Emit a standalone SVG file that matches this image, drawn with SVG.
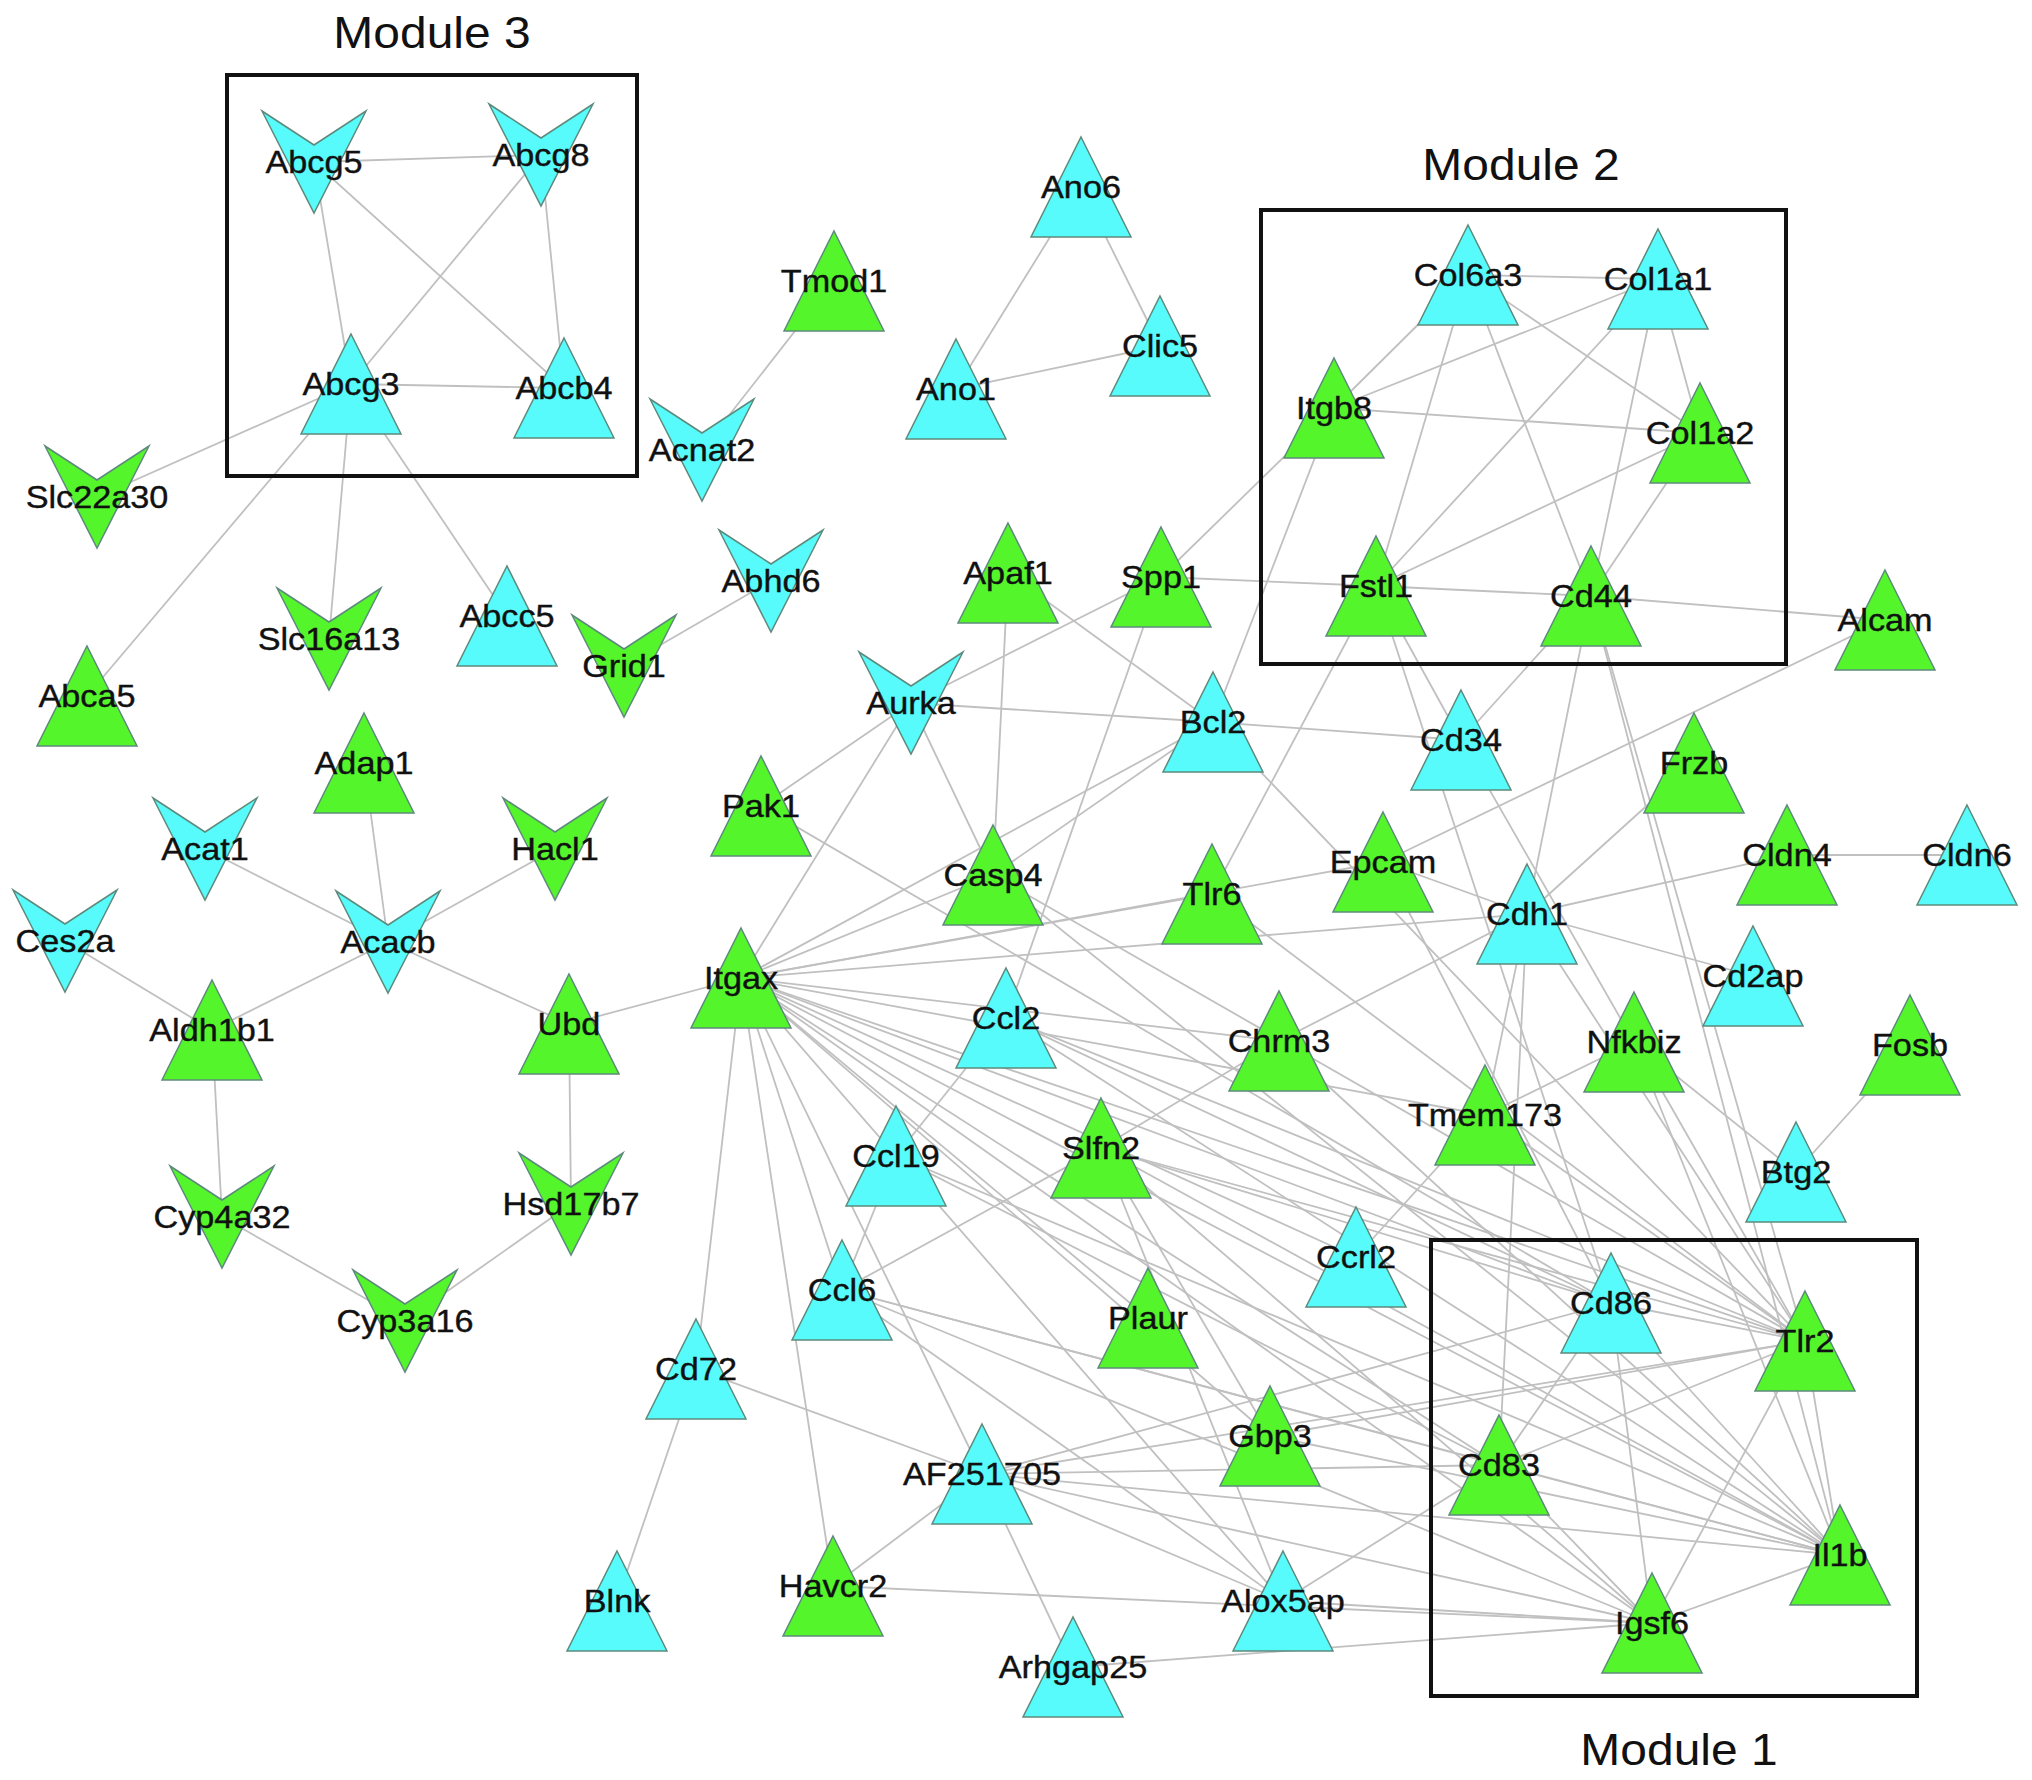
<svg xmlns="http://www.w3.org/2000/svg" xmlns:xlink="http://www.w3.org/1999/xlink" width="2032" height="1780" viewBox="0 0 2032 1780">
<style>
.e line{stroke:#c0c0c0;stroke-width:1.8}
.c{fill:#57fbfb}
.g{fill:#55f52c}
use{stroke:#5d8a7c;stroke-width:1.5}
.lb{font-family:"Liberation Sans",Arial,sans-serif;font-size:32px;fill:#111;stroke:#111;stroke-width:0.4;text-anchor:middle}
.box{fill:none;stroke:#111;stroke-width:4}
.mt{font-family:"Liberation Sans",Arial,sans-serif;font-size:44px;fill:#111;text-anchor:middle}
</style>
<defs>
<polygon id="tri" points="0,-50 50,50 -50,50"/>
<polygon id="vee" points="-52,-51 0,-17 52,-51 0,51"/>
</defs>
<rect width="2032" height="1780" fill="#fff"/>
<g id="connectors" class="e">
<line x1="314" y1="162" x2="541" y2="155"/>
<line x1="314" y1="162" x2="351" y2="384"/>
<line x1="314" y1="162" x2="564" y2="388"/>
<line x1="541" y1="155" x2="351" y2="384"/>
<line x1="541" y1="155" x2="564" y2="388"/>
<line x1="351" y1="384" x2="564" y2="388"/>
<line x1="351" y1="384" x2="97" y2="497"/>
<line x1="351" y1="384" x2="87" y2="696"/>
<line x1="351" y1="384" x2="329" y2="639"/>
<line x1="351" y1="384" x2="507" y2="616"/>
<line x1="834" y1="281" x2="702" y2="450"/>
<line x1="1081" y1="187" x2="956" y2="389"/>
<line x1="1081" y1="187" x2="1160" y2="346"/>
<line x1="956" y1="389" x2="1160" y2="346"/>
<line x1="771" y1="581" x2="624" y2="666"/>
<line x1="364" y1="763" x2="388" y2="942"/>
<line x1="205" y1="849" x2="388" y2="942"/>
<line x1="555" y1="849" x2="388" y2="942"/>
<line x1="388" y1="942" x2="212" y2="1030"/>
<line x1="388" y1="942" x2="569" y2="1024"/>
<line x1="65" y1="941" x2="212" y2="1030"/>
<line x1="212" y1="1030" x2="222" y2="1217"/>
<line x1="222" y1="1217" x2="405" y2="1321"/>
<line x1="405" y1="1321" x2="571" y2="1204"/>
<line x1="569" y1="1024" x2="571" y2="1204"/>
<line x1="569" y1="1024" x2="741" y2="978"/>
<line x1="1787" y1="855" x2="1967" y2="855"/>
<line x1="1910" y1="1045" x2="1796" y2="1172"/>
<line x1="696" y1="1369" x2="617" y2="1601"/>
<line x1="1468" y1="275" x2="1658" y2="279"/>
<line x1="1468" y1="275" x2="1334" y2="408"/>
<line x1="1468" y1="275" x2="1376" y2="586"/>
<line x1="1468" y1="275" x2="1591" y2="596"/>
<line x1="1468" y1="275" x2="1700" y2="433"/>
<line x1="1658" y1="279" x2="1334" y2="408"/>
<line x1="1658" y1="279" x2="1376" y2="586"/>
<line x1="1658" y1="279" x2="1591" y2="596"/>
<line x1="1658" y1="279" x2="1700" y2="433"/>
<line x1="1334" y1="408" x2="1700" y2="433"/>
<line x1="1700" y1="433" x2="1376" y2="586"/>
<line x1="1700" y1="433" x2="1591" y2="596"/>
<line x1="1376" y1="586" x2="1591" y2="596"/>
<line x1="1334" y1="408" x2="1161" y2="577"/>
<line x1="1334" y1="408" x2="1213" y2="722"/>
<line x1="1161" y1="577" x2="1376" y2="586"/>
<line x1="1591" y1="596" x2="1885" y2="620"/>
<line x1="1376" y1="586" x2="1212" y2="894"/>
<line x1="1376" y1="586" x2="1461" y2="740"/>
<line x1="1376" y1="586" x2="1611" y2="1303"/>
<line x1="1591" y1="596" x2="1461" y2="740"/>
<line x1="1591" y1="596" x2="1527" y2="914"/>
<line x1="1591" y1="596" x2="1840" y2="1555"/>
<line x1="1591" y1="596" x2="1805" y2="1341"/>
<line x1="1161" y1="577" x2="911" y2="703"/>
<line x1="1161" y1="577" x2="1006" y2="1018"/>
<line x1="911" y1="703" x2="1213" y2="722"/>
<line x1="911" y1="703" x2="993" y2="875"/>
<line x1="911" y1="703" x2="761" y2="806"/>
<line x1="911" y1="703" x2="741" y2="978"/>
<line x1="1008" y1="573" x2="993" y2="875"/>
<line x1="1008" y1="573" x2="1213" y2="722"/>
<line x1="1213" y1="722" x2="1461" y2="740"/>
<line x1="1213" y1="722" x2="1805" y2="1341"/>
<line x1="993" y1="875" x2="1213" y2="722"/>
<line x1="741" y1="978" x2="1213" y2="722"/>
<line x1="741" y1="978" x2="993" y2="875"/>
<line x1="741" y1="978" x2="1212" y2="894"/>
<line x1="741" y1="978" x2="1383" y2="862"/>
<line x1="741" y1="978" x2="1527" y2="914"/>
<line x1="1885" y1="620" x2="1383" y2="862"/>
<line x1="1383" y1="862" x2="1527" y2="914"/>
<line x1="1383" y1="862" x2="1611" y2="1303"/>
<line x1="1527" y1="914" x2="1694" y2="763"/>
<line x1="1527" y1="914" x2="1787" y2="855"/>
<line x1="1527" y1="914" x2="1753" y2="976"/>
<line x1="1527" y1="914" x2="1279" y2="1041"/>
<line x1="1527" y1="914" x2="1499" y2="1465"/>
<line x1="1527" y1="914" x2="1485" y2="1115"/>
<line x1="1527" y1="914" x2="1805" y2="1341"/>
<line x1="1461" y1="740" x2="1634" y2="1042"/>
<line x1="761" y1="806" x2="1611" y2="1303"/>
<line x1="1634" y1="1042" x2="1485" y2="1115"/>
<line x1="1634" y1="1042" x2="1796" y2="1172"/>
<line x1="1634" y1="1042" x2="1805" y2="1341"/>
<line x1="1634" y1="1042" x2="1840" y2="1555"/>
<line x1="1485" y1="1115" x2="1356" y2="1257"/>
<line x1="1485" y1="1115" x2="1805" y2="1341"/>
<line x1="1212" y1="894" x2="1805" y2="1341"/>
<line x1="993" y1="875" x2="1805" y2="1341"/>
<line x1="993" y1="875" x2="1840" y2="1555"/>
<line x1="741" y1="978" x2="1279" y2="1041"/>
<line x1="741" y1="978" x2="696" y2="1369"/>
<line x1="741" y1="978" x2="833" y2="1586"/>
<line x1="741" y1="978" x2="842" y2="1290"/>
<line x1="741" y1="978" x2="982" y2="1474"/>
<line x1="741" y1="978" x2="1283" y2="1601"/>
<line x1="741" y1="978" x2="1270" y2="1436"/>
<line x1="741" y1="978" x2="1148" y2="1318"/>
<line x1="741" y1="978" x2="1652" y2="1623"/>
<line x1="741" y1="978" x2="1499" y2="1465"/>
<line x1="741" y1="978" x2="1840" y2="1555"/>
<line x1="741" y1="978" x2="1356" y2="1257"/>
<line x1="741" y1="978" x2="1611" y2="1303"/>
<line x1="741" y1="978" x2="1805" y2="1341"/>
<line x1="741" y1="978" x2="1485" y2="1115"/>
<line x1="1006" y1="1018" x2="896" y2="1156"/>
<line x1="896" y1="1156" x2="842" y2="1290"/>
<line x1="1006" y1="1018" x2="1611" y2="1303"/>
<line x1="1006" y1="1018" x2="1805" y2="1341"/>
<line x1="1006" y1="1018" x2="1840" y2="1555"/>
<line x1="1279" y1="1041" x2="1101" y2="1148"/>
<line x1="1279" y1="1041" x2="1840" y2="1555"/>
<line x1="1101" y1="1148" x2="842" y2="1290"/>
<line x1="1101" y1="1148" x2="1270" y2="1436"/>
<line x1="1101" y1="1148" x2="1283" y2="1601"/>
<line x1="1101" y1="1148" x2="1805" y2="1341"/>
<line x1="1101" y1="1148" x2="1611" y2="1303"/>
<line x1="1101" y1="1148" x2="1840" y2="1555"/>
<line x1="1101" y1="1148" x2="1652" y2="1623"/>
<line x1="896" y1="1156" x2="1840" y2="1555"/>
<line x1="896" y1="1156" x2="1499" y2="1465"/>
<line x1="842" y1="1290" x2="1840" y2="1555"/>
<line x1="842" y1="1290" x2="1499" y2="1465"/>
<line x1="842" y1="1290" x2="1652" y2="1623"/>
<line x1="842" y1="1290" x2="1283" y2="1601"/>
<line x1="696" y1="1369" x2="982" y2="1474"/>
<line x1="982" y1="1474" x2="833" y2="1586"/>
<line x1="982" y1="1474" x2="1073" y2="1667"/>
<line x1="982" y1="1474" x2="1611" y2="1303"/>
<line x1="982" y1="1474" x2="1805" y2="1341"/>
<line x1="982" y1="1474" x2="1840" y2="1555"/>
<line x1="982" y1="1474" x2="1652" y2="1623"/>
<line x1="982" y1="1474" x2="1499" y2="1465"/>
<line x1="982" y1="1474" x2="1283" y2="1601"/>
<line x1="1270" y1="1436" x2="1805" y2="1341"/>
<line x1="1270" y1="1436" x2="1840" y2="1555"/>
<line x1="833" y1="1586" x2="1652" y2="1623"/>
<line x1="1283" y1="1601" x2="1652" y2="1623"/>
<line x1="1283" y1="1601" x2="1499" y2="1465"/>
<line x1="1073" y1="1667" x2="1652" y2="1623"/>
<line x1="1611" y1="1303" x2="1805" y2="1341"/>
<line x1="1611" y1="1303" x2="1499" y2="1465"/>
<line x1="1611" y1="1303" x2="1652" y2="1623"/>
<line x1="1611" y1="1303" x2="1840" y2="1555"/>
<line x1="1805" y1="1341" x2="1499" y2="1465"/>
<line x1="1805" y1="1341" x2="1840" y2="1555"/>
<line x1="1805" y1="1341" x2="1652" y2="1623"/>
<line x1="1499" y1="1465" x2="1652" y2="1623"/>
<line x1="1499" y1="1465" x2="1840" y2="1555"/>
<line x1="1652" y1="1623" x2="1840" y2="1555"/>
</g>
<g id="modules">
<rect class="box" x="227" y="75" width="410" height="401"/>
<text class="mt" transform="translate(432 48) scale(1.09 1)">Module 3</text>
<rect class="box" x="1261" y="210" width="525" height="454"/>
<text class="mt" transform="translate(1521 180) scale(1.09 1)">Module 2</text>
<rect class="box" x="1431" y="1240" width="486" height="456"/>
<text class="mt" transform="translate(1679 1765) scale(1.09 1)">Module 1</text>
</g>
<g id="nodes">
<g id="n-Abcg5"><use href="#vee" class="c" x="314" y="162"/><text class="lb" transform="translate(314 162) scale(1.07 1)" y="11">Abcg5</text></g>
<g id="n-Abcg8"><use href="#vee" class="c" x="541" y="155"/><text class="lb" transform="translate(541 155) scale(1.07 1)" y="11">Abcg8</text></g>
<g id="n-Abcg3"><use href="#tri" class="c" x="351" y="384"/><text class="lb" transform="translate(351 384) scale(1.07 1)" y="11">Abcg3</text></g>
<g id="n-Abcb4"><use href="#tri" class="c" x="564" y="388"/><text class="lb" transform="translate(564 388) scale(1.07 1)" y="11">Abcb4</text></g>
<g id="n-Slc22a30"><use href="#vee" class="g" x="97" y="497"/><text class="lb" transform="translate(97 497) scale(1.07 1)" y="11">Slc22a30</text></g>
<g id="n-Ano6"><use href="#tri" class="c" x="1081" y="187"/><text class="lb" transform="translate(1081 187) scale(1.07 1)" y="11">Ano6</text></g>
<g id="n-Tmod1"><use href="#tri" class="g" x="834" y="281"/><text class="lb" transform="translate(834 281) scale(1.07 1)" y="11">Tmod1</text></g>
<g id="n-Clic5"><use href="#tri" class="c" x="1160" y="346"/><text class="lb" transform="translate(1160 346) scale(1.07 1)" y="11">Clic5</text></g>
<g id="n-Ano1"><use href="#tri" class="c" x="956" y="389"/><text class="lb" transform="translate(956 389) scale(1.07 1)" y="11">Ano1</text></g>
<g id="n-Acnat2"><use href="#vee" class="c" x="702" y="450"/><text class="lb" transform="translate(702 450) scale(1.07 1)" y="11">Acnat2</text></g>
<g id="n-Abhd6"><use href="#vee" class="c" x="771" y="581"/><text class="lb" transform="translate(771 581) scale(1.07 1)" y="11">Abhd6</text></g>
<g id="n-Apaf1"><use href="#tri" class="g" x="1008" y="573"/><text class="lb" transform="translate(1008 573) scale(1.07 1)" y="11">Apaf1</text></g>
<g id="n-Spp1"><use href="#tri" class="g" x="1161" y="577"/><text class="lb" transform="translate(1161 577) scale(1.07 1)" y="11">Spp1</text></g>
<g id="n-Itgb8"><use href="#tri" class="g" x="1334" y="408"/><text class="lb" transform="translate(1334 408) scale(1.07 1)" y="11">Itgb8</text></g>
<g id="n-Col6a3"><use href="#tri" class="c" x="1468" y="275"/><text class="lb" transform="translate(1468 275) scale(1.07 1)" y="11">Col6a3</text></g>
<g id="n-Col1a1"><use href="#tri" class="c" x="1658" y="279"/><text class="lb" transform="translate(1658 279) scale(1.07 1)" y="11">Col1a1</text></g>
<g id="n-Col1a2"><use href="#tri" class="g" x="1700" y="433"/><text class="lb" transform="translate(1700 433) scale(1.07 1)" y="11">Col1a2</text></g>
<g id="n-Fstl1"><use href="#tri" class="g" x="1376" y="586"/><text class="lb" transform="translate(1376 586) scale(1.07 1)" y="11">Fstl1</text></g>
<g id="n-Cd44"><use href="#tri" class="g" x="1591" y="596"/><text class="lb" transform="translate(1591 596) scale(1.07 1)" y="11">Cd44</text></g>
<g id="n-Alcam"><use href="#tri" class="g" x="1885" y="620"/><text class="lb" transform="translate(1885 620) scale(1.07 1)" y="11">Alcam</text></g>
<g id="n-Slc16a13"><use href="#vee" class="g" x="329" y="639"/><text class="lb" transform="translate(329 639) scale(1.07 1)" y="11">Slc16a13</text></g>
<g id="n-Abcc5"><use href="#tri" class="c" x="507" y="616"/><text class="lb" transform="translate(507 616) scale(1.07 1)" y="11">Abcc5</text></g>
<g id="n-Grid1"><use href="#vee" class="g" x="624" y="666"/><text class="lb" transform="translate(624 666) scale(1.07 1)" y="11">Grid1</text></g>
<g id="n-Abca5"><use href="#tri" class="g" x="87" y="696"/><text class="lb" transform="translate(87 696) scale(1.07 1)" y="11">Abca5</text></g>
<g id="n-Aurka"><use href="#vee" class="c" x="911" y="703"/><text class="lb" transform="translate(911 703) scale(1.07 1)" y="11">Aurka</text></g>
<g id="n-Bcl2"><use href="#tri" class="c" x="1213" y="722"/><text class="lb" transform="translate(1213 722) scale(1.07 1)" y="11">Bcl2</text></g>
<g id="n-Cd34"><use href="#tri" class="c" x="1461" y="740"/><text class="lb" transform="translate(1461 740) scale(1.07 1)" y="11">Cd34</text></g>
<g id="n-Frzb"><use href="#tri" class="g" x="1694" y="763"/><text class="lb" transform="translate(1694 763) scale(1.07 1)" y="11">Frzb</text></g>
<g id="n-Adap1"><use href="#tri" class="g" x="364" y="763"/><text class="lb" transform="translate(364 763) scale(1.07 1)" y="11">Adap1</text></g>
<g id="n-Pak1"><use href="#tri" class="g" x="761" y="806"/><text class="lb" transform="translate(761 806) scale(1.07 1)" y="11">Pak1</text></g>
<g id="n-Acat1"><use href="#vee" class="c" x="205" y="849"/><text class="lb" transform="translate(205 849) scale(1.07 1)" y="11">Acat1</text></g>
<g id="n-Hacl1"><use href="#vee" class="g" x="555" y="849"/><text class="lb" transform="translate(555 849) scale(1.07 1)" y="11">Hacl1</text></g>
<g id="n-Casp4"><use href="#tri" class="g" x="993" y="875"/><text class="lb" transform="translate(993 875) scale(1.07 1)" y="11">Casp4</text></g>
<g id="n-Tlr6"><use href="#tri" class="g" x="1212" y="894"/><text class="lb" transform="translate(1212 894) scale(1.07 1)" y="11">Tlr6</text></g>
<g id="n-Epcam"><use href="#tri" class="g" x="1383" y="862"/><text class="lb" transform="translate(1383 862) scale(1.07 1)" y="11">Epcam</text></g>
<g id="n-Cldn4"><use href="#tri" class="g" x="1787" y="855"/><text class="lb" transform="translate(1787 855) scale(1.07 1)" y="11">Cldn4</text></g>
<g id="n-Cldn6"><use href="#tri" class="c" x="1967" y="855"/><text class="lb" transform="translate(1967 855) scale(1.07 1)" y="11">Cldn6</text></g>
<g id="n-Cdh1"><use href="#tri" class="c" x="1527" y="914"/><text class="lb" transform="translate(1527 914) scale(1.07 1)" y="11">Cdh1</text></g>
<g id="n-Ces2a"><use href="#vee" class="c" x="65" y="941"/><text class="lb" transform="translate(65 941) scale(1.07 1)" y="11">Ces2a</text></g>
<g id="n-Acacb"><use href="#vee" class="c" x="388" y="942"/><text class="lb" transform="translate(388 942) scale(1.07 1)" y="11">Acacb</text></g>
<g id="n-Itgax"><use href="#tri" class="g" x="741" y="978"/><text class="lb" transform="translate(741 978) scale(1.07 1)" y="11">Itgax</text></g>
<g id="n-Cd2ap"><use href="#tri" class="c" x="1753" y="976"/><text class="lb" transform="translate(1753 976) scale(1.07 1)" y="11">Cd2ap</text></g>
<g id="n-Ccl2"><use href="#tri" class="c" x="1006" y="1018"/><text class="lb" transform="translate(1006 1018) scale(1.07 1)" y="11">Ccl2</text></g>
<g id="n-Aldh1b1"><use href="#tri" class="g" x="212" y="1030"/><text class="lb" transform="translate(212 1030) scale(1.07 1)" y="11">Aldh1b1</text></g>
<g id="n-Ubd"><use href="#tri" class="g" x="569" y="1024"/><text class="lb" transform="translate(569 1024) scale(1.07 1)" y="11">Ubd</text></g>
<g id="n-Chrm3"><use href="#tri" class="g" x="1279" y="1041"/><text class="lb" transform="translate(1279 1041) scale(1.07 1)" y="11">Chrm3</text></g>
<g id="n-Nfkbiz"><use href="#tri" class="g" x="1634" y="1042"/><text class="lb" transform="translate(1634 1042) scale(1.07 1)" y="11">Nfkbiz</text></g>
<g id="n-Fosb"><use href="#tri" class="g" x="1910" y="1045"/><text class="lb" transform="translate(1910 1045) scale(1.07 1)" y="11">Fosb</text></g>
<g id="n-Tmem173"><use href="#tri" class="g" x="1485" y="1115"/><text class="lb" transform="translate(1485 1115) scale(1.07 1)" y="11">Tmem173</text></g>
<g id="n-Ccl19"><use href="#tri" class="c" x="896" y="1156"/><text class="lb" transform="translate(896 1156) scale(1.07 1)" y="11">Ccl19</text></g>
<g id="n-Slfn2"><use href="#tri" class="g" x="1101" y="1148"/><text class="lb" transform="translate(1101 1148) scale(1.07 1)" y="11">Slfn2</text></g>
<g id="n-Btg2"><use href="#tri" class="c" x="1796" y="1172"/><text class="lb" transform="translate(1796 1172) scale(1.07 1)" y="11">Btg2</text></g>
<g id="n-Cyp4a32"><use href="#vee" class="g" x="222" y="1217"/><text class="lb" transform="translate(222 1217) scale(1.07 1)" y="11">Cyp4a32</text></g>
<g id="n-Hsd17b7"><use href="#vee" class="g" x="571" y="1204"/><text class="lb" transform="translate(571 1204) scale(1.07 1)" y="11">Hsd17b7</text></g>
<g id="n-Ccrl2"><use href="#tri" class="c" x="1356" y="1257"/><text class="lb" transform="translate(1356 1257) scale(1.07 1)" y="11">Ccrl2</text></g>
<g id="n-Ccl6"><use href="#tri" class="c" x="842" y="1290"/><text class="lb" transform="translate(842 1290) scale(1.07 1)" y="11">Ccl6</text></g>
<g id="n-Cd86"><use href="#tri" class="c" x="1611" y="1303"/><text class="lb" transform="translate(1611 1303) scale(1.07 1)" y="11">Cd86</text></g>
<g id="n-Plaur"><use href="#tri" class="g" x="1148" y="1318"/><text class="lb" transform="translate(1148 1318) scale(1.07 1)" y="11">Plaur</text></g>
<g id="n-Cyp3a16"><use href="#vee" class="g" x="405" y="1321"/><text class="lb" transform="translate(405 1321) scale(1.07 1)" y="11">Cyp3a16</text></g>
<g id="n-Tlr2"><use href="#tri" class="g" x="1805" y="1341"/><text class="lb" transform="translate(1805 1341) scale(1.07 1)" y="11">Tlr2</text></g>
<g id="n-Cd72"><use href="#tri" class="c" x="696" y="1369"/><text class="lb" transform="translate(696 1369) scale(1.07 1)" y="11">Cd72</text></g>
<g id="n-Gbp3"><use href="#tri" class="g" x="1270" y="1436"/><text class="lb" transform="translate(1270 1436) scale(1.07 1)" y="11">Gbp3</text></g>
<g id="n-Cd83"><use href="#tri" class="g" x="1499" y="1465"/><text class="lb" transform="translate(1499 1465) scale(1.07 1)" y="11">Cd83</text></g>
<g id="n-AF251705"><use href="#tri" class="c" x="982" y="1474"/><text class="lb" transform="translate(982 1474) scale(1.07 1)" y="11">AF251705</text></g>
<g id="n-Il1b"><use href="#tri" class="g" x="1840" y="1555"/><text class="lb" transform="translate(1840 1555) scale(1.07 1)" y="11">Il1b</text></g>
<g id="n-Havcr2"><use href="#tri" class="g" x="833" y="1586"/><text class="lb" transform="translate(833 1586) scale(1.07 1)" y="11">Havcr2</text></g>
<g id="n-Blnk"><use href="#tri" class="c" x="617" y="1601"/><text class="lb" transform="translate(617 1601) scale(1.07 1)" y="11">Blnk</text></g>
<g id="n-Alox5ap"><use href="#tri" class="c" x="1283" y="1601"/><text class="lb" transform="translate(1283 1601) scale(1.07 1)" y="11">Alox5ap</text></g>
<g id="n-Igsf6"><use href="#tri" class="g" x="1652" y="1623"/><text class="lb" transform="translate(1652 1623) scale(1.07 1)" y="11">Igsf6</text></g>
<g id="n-Arhgap25"><use href="#tri" class="c" x="1073" y="1667"/><text class="lb" transform="translate(1073 1667) scale(1.07 1)" y="11">Arhgap25</text></g>
</g>
</svg>
